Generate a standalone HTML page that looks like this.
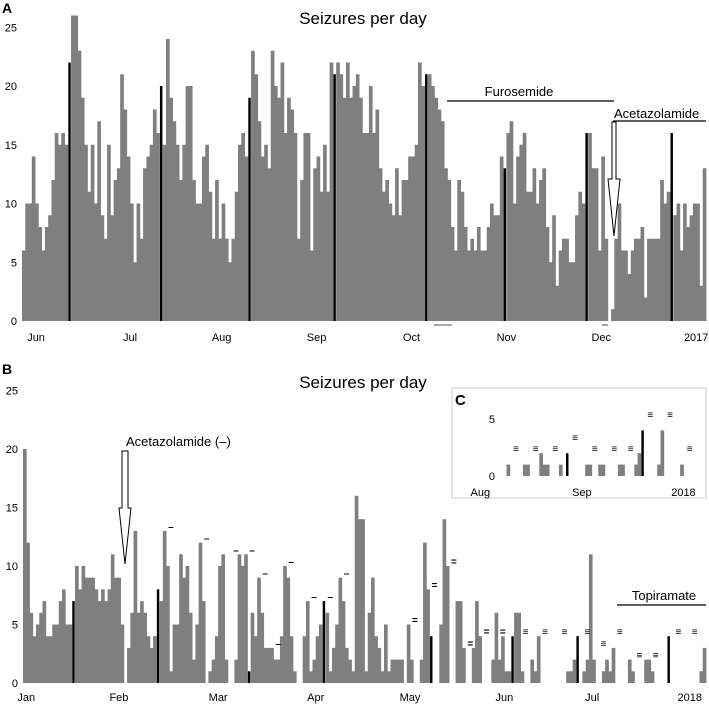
<!DOCTYPE html>
<html><head><meta charset="utf-8"><style>
body{margin:0;background:#fff;}
svg{display:block;font-family:"Liberation Sans",Arial,sans-serif;}
</style></head><body>
<svg id="chart" width="709" height="704" viewBox="0 0 709 704" xmlns="http://www.w3.org/2000/svg">
<rect width="709" height="704" fill="#fff"/>
<text x="2" y="13" font-size="14" font-weight="bold">A</text>
<text x="363" y="24" font-size="17" text-anchor="middle">Seizures per day</text>
<text x="2" y="374" font-size="14" font-weight="bold">B</text>
<text x="363" y="388" font-size="17" text-anchor="middle">Seizures per day</text>
<g id="ga"></g><g id="gb"></g>
<!-- annotations A -->
<line x1="447" y1="101" x2="614" y2="101" stroke="#000" stroke-width="1.3"/>
<text x="519" y="96" font-size="13" text-anchor="middle">Furosemide</text>
<text x="614" y="118" font-size="13">Acetazolamide</text>
<line x1="613" y1="121" x2="706" y2="121" stroke="#000" stroke-width="1.3"/>
<path d="M612,122 L616,122 L616,179 L620,179 L614,236 L608,179 L612,179 Z" fill="#fff" stroke="#000" stroke-width="1"/>
<line x1="434" y1="325" x2="452" y2="325" stroke="#555" stroke-width="1"/>
<line x1="602" y1="325" x2="608" y2="325" stroke="#555" stroke-width="1"/>
<!-- annotations B -->
<text x="126" y="446" font-size="13">Acetazolamide (–)</text>
<path d="M122,451 L128,451 L128,508 L131,508 L125,564 L119,508 L122,508 Z" fill="#fff" stroke="#000" stroke-width="1"/>
<text x="664" y="600" font-size="13" text-anchor="middle">Topiramate</text>
<line x1="617" y1="605" x2="706" y2="605" stroke="#000" stroke-width="1.3"/>
<!-- inset C -->
<rect x="452" y="388" width="254" height="110" fill="#fff" stroke="#ccc" stroke-width="1"/>
<text x="455" y="405" font-size="15" font-weight="bold">C</text>
<g id="gc"></g>
</svg>
<script>
// ---- Panel A data ----
const aValues=[6,10,10,14,10,8,6,8,9,12,16,15,16,15,22,26,26,23,19,15,11,15,10,17,9,7,15,9,12,13,21,18,14,10,5,10,7,13,14,15,18,16,20,15,24,19,17,15,12,15,20,20,12,10,10,14,15,11,7,12,7,10,7,5,7,11,15,16,14,19,23,
21,17,14,15,13,23,20,19,22,16,19,18,16,7,12,16,16,6,13,14,11,15,11,22,21,22,21,19,22,19,20,21,19,16,16,20,16,18,13,11,12,10,9,13,9,12,12,14,14,15,22,20,21,21,20,19,18,17,13,12,8,6,12,11,8,6,7,
6,8,6,6,8,10,9,9,14,13,16,17,10,14,15,16,11,11,13,10,12,13,8,5,9,3,6,7,7,5,5,9,11,10,16,16,13,13,6,14,7,0,1,7,10,6,6,4,6,7,7,8,2,7,7,7,7,12,10,11,16,9,10,6,10,8,9,10,10,3,13];
const aBlack=[14,42,69,95,123,147,172,198];
const aTicks=[0,5,10,15,20,25];
const aMonths=["Jun","Jul","Aug","Sep","Oct","Nov","Dec","2017"];
const aMonthPos=[4.3,33,61,90,119,148,177,206];
// ---- Panel B data ----
const bValues=[20,12,6,4,5,6,7,4,4,5,5,7,8,5,5,7,10,8,10,9,9,9,8,7,8,7,8,11,9,9,5,0,3,6,13,6,7,6,4,3,4,8,7,13,10,1,5,5,11,9,10,6,2,5,12,7,0,1,2,4,10,11,2,0,0,2,11,10,11,1,6,
4,9,6,3,3,3,2,2,4,10,9,4,1,0,0,4,7,1,2,4,5,7,6,1,3,5,9,7,3,2,1,16,14,14,1,6,9,4,3,1,5,1,2,2,2,2,0,5,2,0,0,2,12,8,4,0,0,5,14,10,0,0,7,7,3,0,0,
3,7,4,0,0,0,2,6,2,4,1,1,4,6,6,1,0,0,2,1,4,0,0,0,0,0,0,0,0,1,1,2,4,0,1,2,11,2,0,0,1,2,1,3,0,0,0,0,2,1,0,0,0,2,2,1,0,0,0,0,4,0,0,0,0,0,0,0,0,0,1,3];
const bBlack=[15,41,69,92,125,150,170,198];
const bMarkIdx=[43,54,63,68,72,76,80,87,92,97,118,124,130,135,140,145,152,158,164,171,176,181,187,192,199,204];
const bMarkLevel=[13,12,11,11,9,3,10,7,7,9,5,8,10,3,4,4,4,4,4,4,3,4,2,2,4,4];
const bMarkSym=["–","–","–","–","–","–","–","–","–","–","=","=","=","=","=","=","≡","≡","≡","≡","≡","≡","≡","≡","≡","≡"];
const bTicks=[0,5,10,15,20,25];
const bMonths=["Jan","Feb","Mar","Apr","May","Jun","Jul","2018"];
const bMonthPos=[1,29.5,60,90,119,148,175,205];
// ---- Panel C data ----
const cValues=[0,0,1,0,0,0,0,1,1,0,0,0,2,1,1,0,0,0,1,0,2,0,0,0,0,0,1,1,0,0,1,1,0,0,0,0,1,1,0,0,0,1,2,4,0,0,0,0,1,4,0,0,0,0,0,1,0,0];
const cBlack=[20,43];
const cMarkIdx=[4,10,16,22,28,34,39,45,51,57];
const cMarkLevel=[2,2,2,3,2,2,2,5,5,2];
const cTicks=[0,5];
const cMonths=["Aug","Sep","2018"];
const cMonthPos=[-6,25,56];

const NS="http://www.w3.org/2000/svg";
function mk(tag,attrs,parent){const e=document.createElementNS(NS,tag);for(const k in attrs)e.setAttribute(k,attrs[k]);parent.appendChild(e);return e;}

function panel(g,vals,blacks,ticks,months,mpos,x0,x1,y0,unit,labelY,prefix){
  const bw=(x1-x0)/vals.length;
  const xs=i=>x0+i*bw;
  const ys=v=>y0-v*unit;
  vals.forEach((v,i)=>{
    if(v<=0)return;
    const isB=blacks.includes(i);
    const r=mk('rect',{x:isB?xs(i)+bw*0.15:xs(i),y:ys(v),width:isB?bw*0.75:bw+0.4,height:v*unit,fill:isB?'#000':'#7f7f7f'},g);
    
    
  });
  ticks.forEach(t=>{
    const e=mk('text',{x:x0-5,y:ys(t)+4,'font-size':11,'text-anchor':'end'},g);
    e.textContent=t;
    
    
  });
  months.forEach((m,i)=>{
    const e=mk('text',{x:xs(mpos[i]),y:labelY,'font-size':11,'text-anchor':'middle'},g);
    e.textContent=m;
    
    
  });
  return {xs,ys,bw};
}
const A=panel(document.getElementById('ga'),aValues,aBlack,aTicks,aMonths,aMonthPos,22,706,321,11.75,341,'panel-a');
const B=panel(document.getElementById('gb'),bValues,bBlack,bTicks,bMonths,bMonthPos,23,706,683,11.7,701,'panel-b');
bMarkIdx.forEach((i,k)=>{
  const e=mk('text',{x:B.xs(i)+B.bw+2,y:B.ys(bMarkLevel[k])-1,'font-size':10,'font-weight':'bold'},document.getElementById('gb'));
  e.textContent=bMarkSym[k];
  
  
});
const C=panel(document.getElementById('gc'),cValues,cBlack,cTicks,cMonths,cMonthPos,500,690,476,11.4,496,'panel-c');
cMarkIdx.forEach((i,k)=>{
  const e=mk('text',{x:C.xs(i),y:C.ys(cMarkLevel[k])-1,'font-size':10,'font-weight':'bold'},document.getElementById('gc'));
  e.textContent="≡";
  
  
});
</script>
</body></html>
